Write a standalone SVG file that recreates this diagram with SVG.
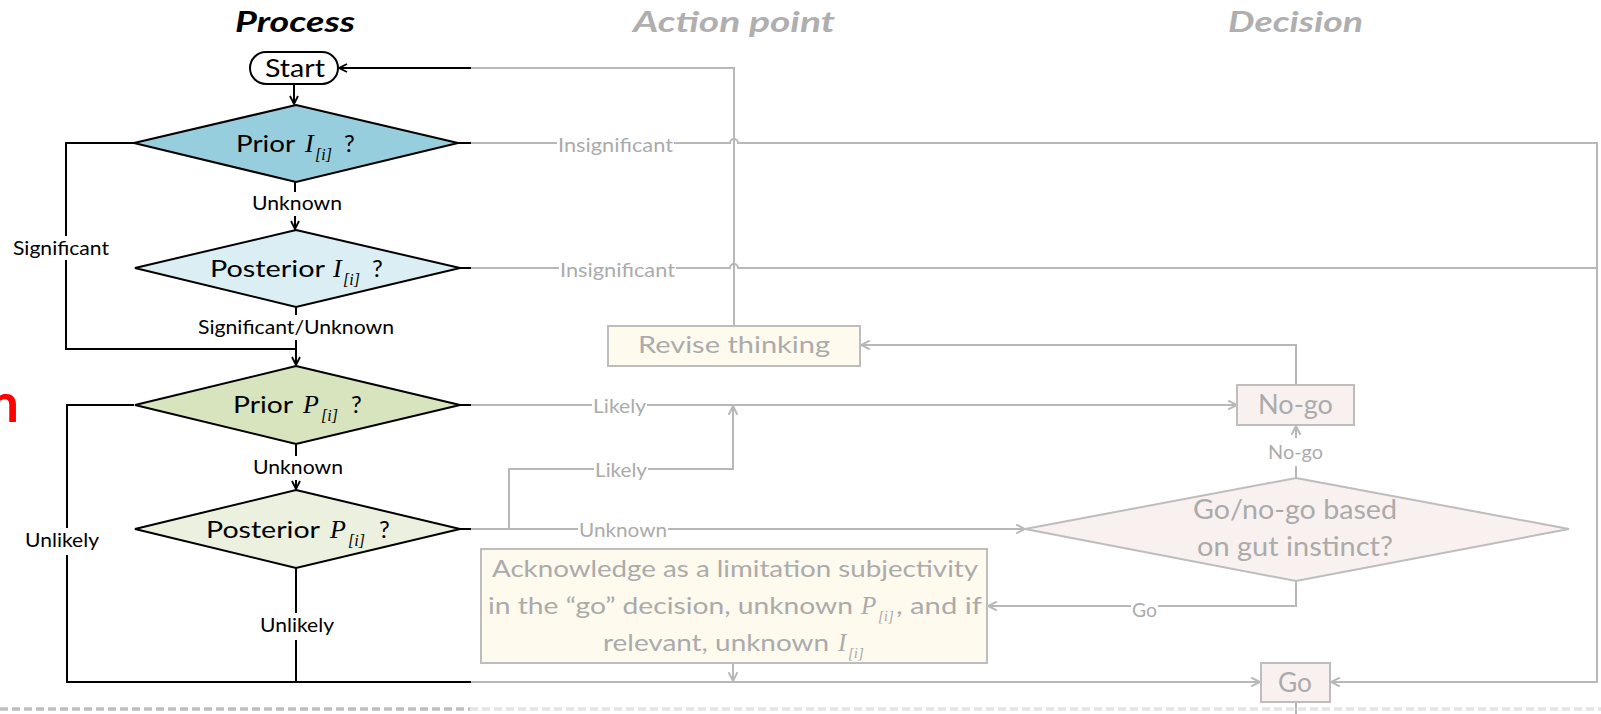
<svg xmlns="http://www.w3.org/2000/svg" width="1601" height="714" viewBox="0 0 1601 714">
  <style>
    .t { font-family: Lato, "Open Sans", sans-serif; }
    .m { font-family: "Liberation Serif", "DejaVu Serif", serif; font-style: italic; }
    .title { font-size: 28px; font-weight: 700; font-style: italic; }
    .lbl { font-size: 20px; fill: #000; }
    .glbl { font-size: 20px; fill: #ABABAB; }
    .dtext { font-size: 24px; fill: #000; }
    .gtext { fill: #ABABAB; }
    .kline { fill: none; stroke: #000; stroke-width: 2; }
    .gline { fill: none; stroke: #B8B8B8; stroke-width: 2; }
    .gbox { stroke: #BDBDBD; stroke-width: 2; }
    .bg { fill: #FFFFFF; }
  </style>
  <defs>
    <marker id="ah-k" viewBox="0 0 10 10" refX="9" refY="5" markerWidth="10" markerHeight="10" markerUnits="userSpaceOnUse" orient="auto">
      <path d="M1,1 L9,5 L1,9" fill="none" stroke="#000" stroke-width="1.8"/>
    </marker>
    <marker id="ah-g" viewBox="0 0 10 10" refX="9" refY="5" markerWidth="11" markerHeight="11" markerUnits="userSpaceOnUse" orient="auto">
      <path d="M1,1 L9,5 L1,9" fill="none" stroke="#B8B8B8" stroke-width="1.8"/>
    </marker>
  </defs>

  <rect width="1601" height="714" fill="#FFFFFF"/>

  <!-- cut-off heading fragment at the left edge -->
  <text class="t" x="19" y="422" font-size="54" font-weight="700" fill="#FF0000" text-anchor="end">n</text>

  <!-- column titles -->
  <g id="titles" class="t title">
    <text x="235" y="32" textLength="120" lengthAdjust="spacingAndGlyphs" fill="#000">Process</text>
    <text x="633" y="32" textLength="202" lengthAdjust="spacingAndGlyphs" fill="#AFAFAF">Action point</text>
    <text x="1228" y="32" textLength="135" lengthAdjust="spacingAndGlyphs" fill="#AFAFAF">Decision</text>
  </g>

  <!-- bottom dashed separator -->
  <g id="separator">
    <line x1="0" y1="709" x2="470" y2="709" stroke="#BEBEBE" stroke-width="3.5" stroke-dasharray="8 4"/>
    <line x1="470" y1="709" x2="1601" y2="709" stroke="#E4E4E4" stroke-width="3.5" stroke-dasharray="8 4"/>
  </g>

  <g id="connectors">
    <!-- grey (action / decision side) -->
    <path class="gline" d="M734,326 V68 H471"/>
    <path class="gline" d="M471,143 H730 a4,4 0 0 1 8,0 H1597 V682 H1331" marker-end="url(#ah-g)"/>
    <path class="gline" d="M471,268 H730 a4,4 0 0 1 8,0 H1597"/>
    <path class="gline" d="M471,405 H1237" marker-end="url(#ah-g)"/>
    <path class="gline" d="M509,529 V469 H733 V406" marker-end="url(#ah-g)"/>
    <path class="gline" d="M471,529 H1025" marker-end="url(#ah-g)"/>
    <path class="gline" d="M1296,478 V426" marker-end="url(#ah-g)"/>
    <path class="gline" d="M1296,385 V345 H861" marker-end="url(#ah-g)"/>
    <path class="gline" d="M1296,581 V606 H988" marker-end="url(#ah-g)"/>
    <path class="gline" d="M733,663 V681" marker-end="url(#ah-g)"/>
    <path class="gline" d="M471,682 H1260" marker-end="url(#ah-g)"/>
    <path class="gline" d="M1296,702 V714"/>

    <!-- black (process side) -->
    <path class="kline" d="M471,68 H339" marker-end="url(#ah-k)"/>
    <path class="kline" d="M294,84 V104" marker-end="url(#ah-k)"/>
    <path class="kline" d="M295,182 V229" marker-end="url(#ah-k)"/>
    <path class="kline" d="M296,307 V365" marker-end="url(#ah-k)"/>
    <path class="kline" d="M134,143 H66 V349 H296"/>
    <path class="kline" d="M296,444 V489" marker-end="url(#ah-k)"/>
    <path class="kline" d="M296,568 V682"/>
    <path class="kline" d="M134,405 H67 V682 H471"/>
    <path class="kline" d="M458,143 H471 M460,268 H471 M460,405 H471 M460,529 H471"/>

    <!-- connector labels -->
    <g class="t">
      <rect class="bg" x="10" y="236" width="102" height="24"/>
      <text class="lbl" x="13" y="255" textLength="96" lengthAdjust="spacingAndGlyphs">Significant</text>
      <rect class="bg" x="249" y="192" width="96" height="24"/>
      <text class="lbl" x="252" y="210" textLength="90" lengthAdjust="spacingAndGlyphs">Unknown</text>
      <rect class="bg" x="195" y="315" width="202" height="25"/>
      <text class="lbl" x="198" y="334" textLength="196" lengthAdjust="spacingAndGlyphs">Significant/Unknown</text>
      <rect class="bg" x="250" y="456" width="96" height="24"/>
      <text class="lbl" x="253" y="474" textLength="90" lengthAdjust="spacingAndGlyphs">Unknown</text>
      <rect class="bg" x="22" y="528" width="80" height="27"/>
      <text class="lbl" x="25" y="547" textLength="74" lengthAdjust="spacingAndGlyphs">Unlikely</text>
      <rect class="bg" x="257" y="613" width="80" height="27"/>
      <text class="lbl" x="260" y="632" textLength="74" lengthAdjust="spacingAndGlyphs">Unlikely</text>

      <rect class="bg" x="557" y="134" width="117" height="24"/>
      <text class="glbl" x="558" y="152" textLength="115" lengthAdjust="spacingAndGlyphs">Insignificant</text>
      <rect class="bg" x="559" y="259" width="117" height="24"/>
      <text class="glbl" x="560" y="277" textLength="115" lengthAdjust="spacingAndGlyphs">Insignificant</text>
      <rect class="bg" x="592" y="395" width="55" height="24"/>
      <text class="glbl" x="593" y="413" textLength="53" lengthAdjust="spacingAndGlyphs">Likely</text>
      <rect class="bg" x="594" y="459" width="54" height="24"/>
      <text class="glbl" x="595" y="477" textLength="52" lengthAdjust="spacingAndGlyphs">Likely</text>
      <rect class="bg" x="578" y="520" width="90" height="22"/>
      <text class="glbl" x="579" y="537" textLength="88" lengthAdjust="spacingAndGlyphs">Unknown</text>
      <rect class="bg" x="1266" y="438" width="59" height="28"/>
      <text class="glbl" x="1268" y="459" textLength="55" lengthAdjust="spacingAndGlyphs">No-go</text>
      <rect class="bg" x="1131" y="598" width="27" height="22"/>
      <text class="glbl" x="1132" y="617" textLength="25" lengthAdjust="spacingAndGlyphs">Go</text>
    </g>
  </g>

  <!-- process column -->
  <g id="start">
    <rect x="250" y="52" width="88" height="32" rx="16" fill="#FFFFFF" stroke="#000" stroke-width="2"/>
    <text class="t" x="265" y="77" font-size="25" textLength="60" lengthAdjust="spacingAndGlyphs">Start</text>
  </g>

  <g id="prior-impact">
    <polygon points="296,105 458,143 296,182 134,143" fill="#97CEDD" stroke="#000" stroke-width="2"/>
    <text class="t dtext" x="236" y="152" textLength="59" lengthAdjust="spacingAndGlyphs">Prior</text>
    <text class="m" x="305" y="152" font-size="26">I</text>
    <text class="m" x="315" y="160" font-size="16">[i]</text>
    <text class="t dtext" x="344" y="152">?</text>
  </g>

  <g id="posterior-impact">
    <polygon points="296,230 460,268 296,307 135,268" fill="#DAEEF3" stroke="#000" stroke-width="2"/>
    <text class="t dtext" x="210" y="277" textLength="115" lengthAdjust="spacingAndGlyphs">Posterior</text>
    <text class="m" x="333" y="277" font-size="26">I</text>
    <text class="m" x="343" y="285" font-size="16">[i]</text>
    <text class="t dtext" x="372" y="277">?</text>
  </g>

  <g id="prior-probability">
    <polygon points="296,366 460,405 296,444 135,405" fill="#D7E4BD" stroke="#000" stroke-width="2"/>
    <text class="t dtext" x="233" y="413" textLength="60" lengthAdjust="spacingAndGlyphs">Prior</text>
    <text class="m" x="303" y="413" font-size="26">P</text>
    <text class="m" x="321" y="421" font-size="16">[i]</text>
    <text class="t dtext" x="351" y="413">?</text>
  </g>

  <g id="posterior-probability">
    <polygon points="296,490 460,529 296,568 135,529" fill="#EBF1DE" stroke="#000" stroke-width="2"/>
    <text class="t dtext" x="206" y="538" textLength="114" lengthAdjust="spacingAndGlyphs">Posterior</text>
    <text class="m" x="330" y="538" font-size="26">P</text>
    <text class="m" x="348" y="546" font-size="16">[i]</text>
    <text class="t dtext" x="379" y="538">?</text>
  </g>

  <!-- action point column -->
  <g id="revise-thinking">
    <rect class="gbox" x="608" y="326" width="252" height="40" fill="#FEFAEE"/>
    <text class="t gtext" x="638" y="353" font-size="24" textLength="192" lengthAdjust="spacingAndGlyphs">Revise thinking</text>
  </g>

  <g id="acknowledge-limitation" class="t gtext">
    <rect class="gbox" x="481" y="549" width="506" height="114" fill="#FEFAEE"/>
    <text x="492" y="577" font-size="23" textLength="486" lengthAdjust="spacingAndGlyphs">Acknowledge as a limitation subjectivity</text>
    <text x="488" y="614" font-size="23" textLength="365" lengthAdjust="spacingAndGlyphs">in the “go” decision, unknown</text>
    <text class="m" x="861" y="614" font-size="25">P</text>
    <text class="m" x="878" y="621" font-size="15">[i]</text>
    <text x="896" y="614" font-size="23" textLength="86" lengthAdjust="spacingAndGlyphs">, and if</text>
    <text x="603" y="651" font-size="23" textLength="226" lengthAdjust="spacingAndGlyphs">relevant, unknown</text>
    <text class="m" x="838" y="651" font-size="25">I</text>
    <text class="m" x="848" y="658" font-size="15">[i]</text>
  </g>

  <!-- decision column -->
  <g id="no-go">
    <rect class="gbox" x="1237" y="385" width="117" height="40" fill="#F9F1F0"/>
    <text class="t gtext" x="1258" y="414" font-size="26" textLength="75" lengthAdjust="spacingAndGlyphs">No-go</text>
  </g>

  <g id="gut-instinct" class="t gtext">
    <polygon class="gbox" points="1296,478 1569,529 1296,581 1025,529" fill="#F9F1F0"/>
    <text x="1193" y="519" font-size="26" textLength="204" lengthAdjust="spacingAndGlyphs">Go/no-go based</text>
    <text x="1197" y="556" font-size="26" textLength="196" lengthAdjust="spacingAndGlyphs">on gut instinct?</text>
  </g>

  <g id="go">
    <rect class="gbox" x="1261" y="663" width="69" height="39" fill="#F9F1F0"/>
    <text class="t gtext" x="1278" y="692" font-size="26" textLength="34" lengthAdjust="spacingAndGlyphs">Go</text>
  </g>
</svg>
